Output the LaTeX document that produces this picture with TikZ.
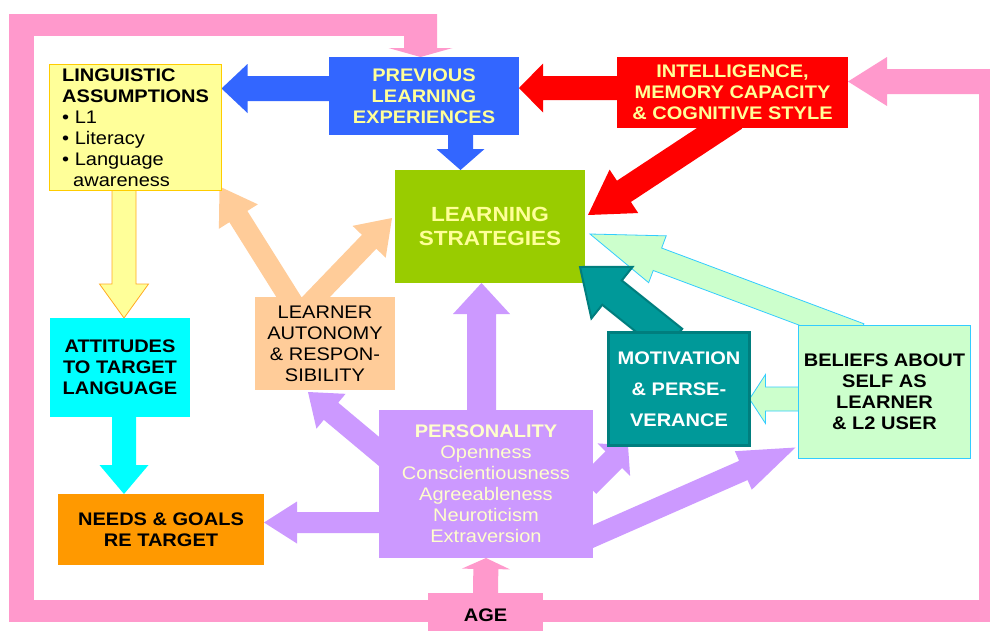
\documentclass[tikz,border=0pt]{standalone}
\usepackage{fontspec}
\setmainfont[FakeStretch=1.1]{Liberation Sans}
\usetikzlibrary{calc}
\definecolor{cpink}{HTML}{FF99CC}
\definecolor{cblue}{HTML}{3366FF}
\definecolor{cred}{HTML}{FF0000}
\definecolor{cgreen}{HTML}{99CC00}
\definecolor{cyel}{HTML}{FFFF99}
\definecolor{cyelb}{HTML}{FFCC00}
\definecolor{carrb}{HTML}{FFAA22}
\definecolor{ccyan}{HTML}{00FFFF}
\definecolor{corange}{HTML}{FF9900}
\definecolor{cpeach}{HTML}{FFCC99}
\definecolor{clav}{HTML}{CC99FF}
\definecolor{cteal}{HTML}{009999}
\definecolor{ctealb}{HTML}{007E7E}
\definecolor{cmint}{HTML}{CCFFCC}
\definecolor{cmintb}{HTML}{33CCFF}
\definecolor{ctext}{HTML}{FFFF99}
\definecolor{cptext}{HTML}{FFFFCC}
\newcommand{\fs}{\fontsize{18.2}{21}\selectfont}
\newcommand{\fatarr}[6]{%
  \coordinate (fa-s) at #2;
  \coordinate (fa-t) at #3;
  \coordinate (fa-b) at ($(fa-t)!#6!(fa-s)$);
  \path[#1] ($(fa-s)!#4!90:(fa-t)$) -- ($(fa-b)!#4!90:(fa-t)$) -- ($(fa-b)!#5!90:(fa-t)$) -- (fa-t) -- ($(fa-b)!#5!-90:(fa-t)$) -- ($(fa-b)!#4!-90:(fa-t)$) -- ($(fa-s)!#4!-90:(fa-t)$) -- cycle;
}
\pgfdeclarelayer{loop}
\pgfdeclarelayer{low}
\pgfdeclarelayer{arrows}
\pgfsetlayers{loop,low,arrows,main}
\tikzset{
  box/.style={inner sep=0pt, outer sep=0pt, align=center, font=\fs\bfseries},
}
\begin{document}
\begin{tikzpicture}[x=1pt,y=-1pt]
\useasboundingbox (0,0) rectangle (990,630);

% boxes
\node[box, fill=cblue, text=ctext, minimum width=190pt, minimum height=78pt] (prev) at (424,96) {PREVIOUS\\LEARNING\\EXPERIENCES};
\node[box, fill=cred, text=ctext, minimum width=231pt, minimum height=71pt] (intel) at (732.5,92.5) {INTELLIGENCE,\\MEMORY CAPACITY\\\& COGNITIVE STYLE};
\node[box, fill=cyel, draw=cyelb, line width=1pt, minimum width=172pt, minimum height=126pt] (ling) at (135.5,127.5) {};
\node[anchor=north west, inner sep=0pt, align=left, font=\fs] (lingtxt) at (62,69) {\textbf{LINGUISTIC}\\\textbf{ASSUMPTIONS}\\• L1\\• Literacy\\• Language\\\hspace*{11pt}awareness};
\begin{pgfonlayer}{low}
\node[box, fill=cgreen, text=ctext, minimum width=190pt, minimum height=113pt, font=\fontsize{20.5}{24}\selectfont\bfseries] (strat) at (490,226.5) {LEARNING\\STRATEGIES};
\end{pgfonlayer}
\node[box, fill=ccyan, minimum width=140pt, minimum height=99pt] (att) at (120,367.5) {ATTITUDES\\TO TARGET\\LANGUAGE};
\node[box, fill=corange, minimum width=206pt, minimum height=71pt] (needs) at (161,529.5) {NEEDS \& GOALS\\RE TARGET};
\node[box, fill=cpeach, minimum width=140pt, minimum height=93pt, font=\fs] (auton) at (325,343.5) {LEARNER\\AUTONOMY\\\& RESPON-\\SIBILITY};
\node[box, fill=clav, text=cptext, minimum width=214pt, minimum height=148pt, font=\fs] (pers) at (486,484) {\textbf{PERSONALITY}\\Openness\\Conscientiousness\\Agreeableness\\Neuroticism\\Extraversion};
\node[box, fill=cteal, draw=ctealb, line width=3pt, text=white, minimum width=141pt, minimum height=113pt, font=\fontsize{18.2}{31}\selectfont\bfseries] (motiv) at (679,389) {MOTIVATION\\\& PERSE-\\VERANCE};
\node[box, fill=cmint, draw=cmintb, line width=1pt, minimum width=172pt, minimum height=133pt] (beliefs) at (884.5,392) {BELIEFS ABOUT\\SELF AS\\LEARNER\\\& L2 USER};
\node[box, fill=cpink, minimum width=115pt, minimum height=44pt] (age) at (485.5,615) {AGE};

% pink loop
\begin{pgfonlayer}{loop}
\fill[white] (0,0) rectangle (990,630);
\fill[cpink] (9,14) rectangle (437,36);
\fill[cpink] (9,14) rectangle (34,622);
\fill[cpink] (9,600) rectangle (1000,622);
\fill[cpink] (979,69) rectangle (1000,622);
\fatarr{fill=cpink}{(1000,81.5)}{(intel.east |- 0,81.5)}{12.5pt}{24.5pt}{39pt}
\fatarr{fill=cpink}{(420.5,14)}{($(prev.north)+(-3.5,0)$)}{16.5pt}{32pt}{9pt}
\end{pgfonlayer}

% arrows
\begin{pgfonlayer}{arrows}
\fatarr{fill=cpink}{(age.north)}{(pers.south)}{12.5pt}{24pt}{11pt}
\fatarr{fill=cblue}{(335,88.5)}{(ling.east |- 0,88.5)}{12.5pt}{24.5pt}{26pt}
\fatarr{fill=cblue}{(460.5,130)}{($(strat.north)+(-29.5,0)$)}{12.5pt}{24pt}{21pt}
\fatarr{fill=cred}{(625,88)}{(prev.east |- 0,88)}{12pt}{24.5pt}{24pt}
\fatarr{fill=cred}{(735.2,118)}{($(strat.east)+(3,-11.5)$)}{12.7pt}{26pt}{43pt}
\fatarr{fill=cyel, draw=carrb, line width=0.8pt}{(124,185)}{($(att.north)+(4,0)$)}{12pt}{24.5pt}{34pt}
\fatarr{fill=ccyan}{(124,410)}{(124,494)}{12pt}{24.5pt}{29pt}
\fatarr{fill=clav}{(390,522.5)}{(needs.east |- 0,522.5)}{10.5pt}{21pt}{33pt}
\fatarr{fill=clav}{(481.5,420)}{($(strat.south)+(-8.5,0)$)}{14.5pt}{28.5pt}{31pt}
\fatarr{fill=clav}{(390,460.6)}{($(auton.south)+(-17,2)$)}{11.2pt}{22.7pt}{30pt}
\fatarr{fill=clav}{(588,485.5)}{($(motiv.south)+(-51,0)$)}{11.7pt}{23pt}{20pt}
\fatarr{fill=clav}{(580,542.2)}{($(beliefs.south west)+(-3,-11)$)}{10.5pt}{21pt}{57pt}
\fatarr{fill=cpeach}{(297,310)}{($(ling.south east)+(-2,-4)$)}{10.6pt}{23pt}{35.5pt}
\fatarr{fill=cpeach}{(303.5,310)}{($(strat.west)+(-3,-8.5)$)}{10pt}{23pt}{33pt}
\fatarr{fill=cmint, draw=cmintb, line width=0.8pt}{(805,399)}{($(motiv.east)+(0,10)$)}{12pt}{24.5pt}{16pt}
\fatarr{fill=cmint, draw=cmintb, line width=0.8pt}{(859.7,335)}{($(strat.east)+(5,7.5)$)}{12pt}{25pt}{72pt}
\fatarr{fill=cteal, draw=ctealb, line width=2pt}{(672.5,341)}{($(strat.south east)+(-5,-16)$)}{15.6pt}{33pt}{41pt}
\end{pgfonlayer}
\end{tikzpicture}
\end{document}
